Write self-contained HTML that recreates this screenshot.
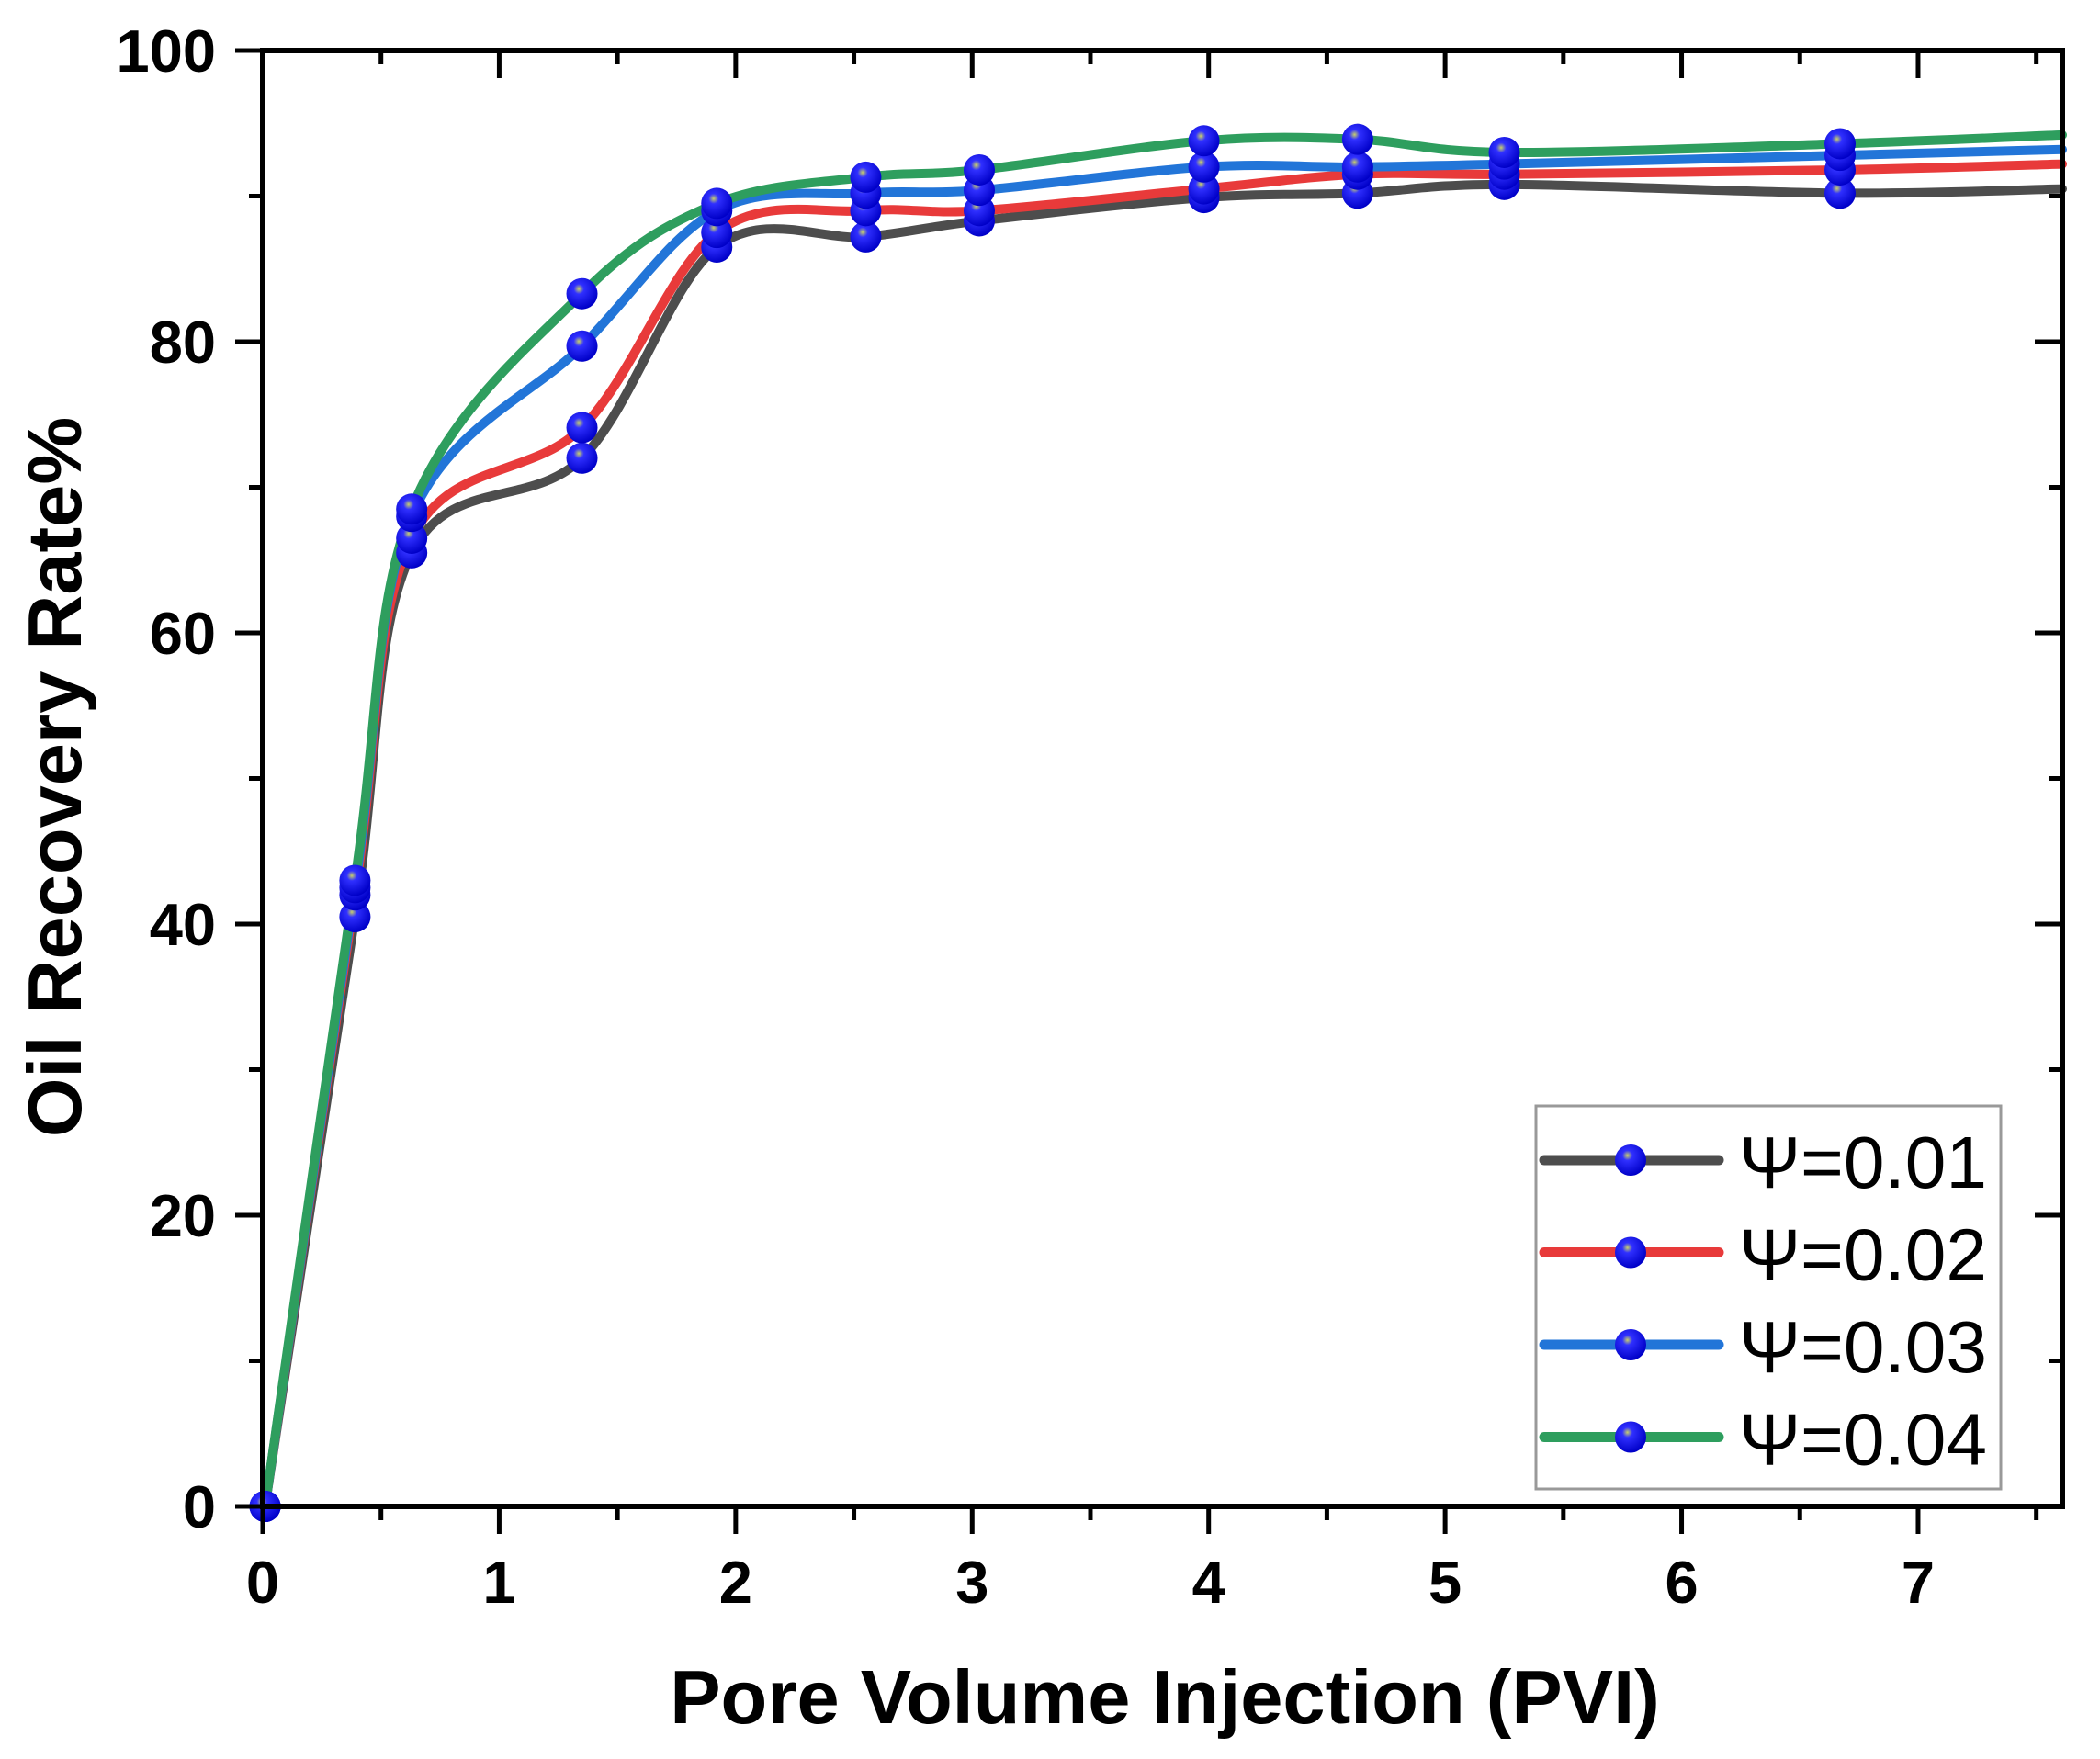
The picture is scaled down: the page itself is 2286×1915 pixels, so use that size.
<!DOCTYPE html>
<html><head><meta charset="utf-8"><style>
html,body{margin:0;padding:0;background:#fff;}
svg{display:block;font-family:"Liberation Sans",Arial,sans-serif;}
</style></head><body>
<svg id="chart" width="2286" height="1915" viewBox="0 0 2286 1915" xmlns="http://www.w3.org/2000/svg">
<defs>
<radialGradient id="ball" cx="0.4" cy="0.35" r="0.65">
<stop offset="0" stop-color="#c8d06a"/><stop offset="0.25" stop-color="#3030ff"/><stop offset="1" stop-color="#0000c8"/>
</radialGradient>
</defs>
<g id="plot"></g>
</svg>
<script>
const xValues = [0.01, 0.39, 0.63, 1.35, 1.92, 2.55, 3.03, 3.98, 4.63, 5.25, 6.67, 7.61];
const seriesNames = ["Ψ=0.01", "Ψ=0.02", "Ψ=0.03", "Ψ=0.04"];
const series001 = [0, 40.5, 65.5, 72.0, 86.5, 87.2, 88.3, 89.9, 90.2, 90.8, 90.2, 90.5];
const series002 = [0, 42.0, 66.5, 74.1, 87.5, 89.0, 89.0, 90.5, 91.5, 91.5, 91.8, 92.2];
const series003 = [0, 42.5, 68.0, 79.7, 89.0, 90.2, 90.4, 92.0, 92.0, 92.2, 92.8, 93.2];
const series004 = [0, 43.0, 68.5, 83.3, 89.5, 91.3, 91.8, 93.8, 93.9, 93.0, 93.6, 94.2];
const xTicks = [0, 1, 2, 3, 4, 5, 6, 7];
const yTicks = [0, 20, 40, 60, 80, 100];

const colors = ["#4d4d4d", "#e83a3a", "#2275d8", "#2e9e5e"];
const allSeries = [series001, series002, series003, series004];
const L = 286, R = 2245, T = 55, B = 1640, XMAX = 7.61;
const sx = v => L + v / XMAX * (R - L);
const sy = v => B - v / 100 * (B - T);
const NS = "http://www.w3.org/2000/svg";
const g = document.getElementById('plot');
function mk(tag, attrs, parent) {
  const e = document.createElementNS(NS, tag);
  for (const k in attrs) e.setAttribute(k, attrs[k]);
  (parent || g).appendChild(e);
  return e;
}
function spline(pts) {
  let d = `M${pts[0][0]},${pts[0][1]}`;
  for (let i = 0; i < pts.length - 1; i++) {
    const p0 = pts[Math.max(i - 1, 0)], p1 = pts[i], p2 = pts[i + 1], p3 = pts[Math.min(i + 2, pts.length - 1)];
    const c1 = [p1[0] + (p2[0] - p0[0]) / 6, p1[1] + (p2[1] - p0[1]) / 6];
    const c2 = [p2[0] - (p3[0] - p1[0]) / 6, p2[1] - (p3[1] - p1[1]) / 6];
    d += ` C${c1[0]},${c1[1]} ${c2[0]},${c2[1]} ${p2[0]},${p2[1]}`;
  }
  return d;
}
allSeries.forEach((s, si) => {
  const pts = s.map((v, i) => [sx(xValues[i]), sy(v)]);
  const p = mk('path', {d: spline(pts), fill: 'none', stroke: colors[si], 'stroke-width': 10, 'stroke-linecap': 'round'});
  
  
});
allSeries.forEach((s, si) => {
  s.forEach((v, i) => {
    if (i === s.length - 1) return;
    const c = mk('circle', {cx: sx(xValues[i]), cy: sy(v), r: 17, fill: 'url(#ball)'});
    
    
  });
});
const fr = mk('rect', {x: L, y: T, width: R - L, height: B - T, fill: 'none', stroke: '#000', 'stroke-width': 6});


for (let v = 0; v <= XMAX; v += 0.5) {
  const major = Math.abs(v - Math.round(v)) < 1e-6;
  const len = major ? 30 : 15;
  const x = sx(v);
  const t1 = mk('line', {x1: x, y1: B, x2: x, y2: B + len, stroke: '#000', 'stroke-width': 5});
  
  
  const t2 = mk('line', {x1: x, y1: T, x2: x, y2: T + len, stroke: '#000', 'stroke-width': 5});
  
  
}
xTicks.forEach(v => {
  const t = mk('text', {x: sx(v), y: 1745, 'text-anchor': 'middle', 'font-size': 65, 'font-weight': 'bold'});
  t.textContent = v;
  
  
});
for (let v = 0; v <= 100; v += 10) {
  const major = v % 20 === 0;
  const len = major ? 30 : 15;
  const y = sy(v);
  const t1 = mk('line', {x1: L - len, y1: y, x2: L, y2: y, stroke: '#000', 'stroke-width': 5});
  
  
  const t2 = mk('line', {x1: R - len, y1: y, x2: R, y2: y, stroke: '#000', 'stroke-width': 5});
  
  
}
yTicks.forEach(v => {
  const t = mk('text', {x: 235, y: sy(v) + 23, 'text-anchor': 'end', 'font-size': 65, 'font-weight': 'bold'});
  t.textContent = v;
  
  
});
const xt = mk('text', {x: 1268, y: 1876, 'text-anchor': 'middle', 'font-size': 83, 'font-weight': 'bold'});
xt.textContent = 'Pore Volume Injection (PVI)';


const yt = mk('text', {x: 0, y: 0, 'text-anchor': 'middle', 'font-size': 83, 'font-weight': 'bold', transform: 'translate(88,846) rotate(-90)'});
yt.textContent = 'Oil Recovery Rate%';


const lg = mk('g', {});


const lr = mk('rect', {x: 1672, y: 1204, width: 506, height: 417, fill: '#fff', stroke: '#999', 'stroke-width': 3}, lg);


seriesNames.forEach((nm, i) => {
  const cy = 1263 + i * 100.5;
  const ln = mk('line', {x1: 1681, y1: cy, x2: 1871, y2: cy, stroke: colors[i], 'stroke-width': 11, 'stroke-linecap': 'round'}, lg);
  
  
  const c = mk('circle', {cx: 1775, cy: cy, r: 17, fill: 'url(#ball)'}, lg);
  
  
  const t = mk('text', {x: 1893, y: cy + 30, 'font-size': 80, textLength: 270, lengthAdjust: 'spacingAndGlyphs'}, lg);
  t.textContent = nm;
  
  
});
</script>
</body></html>
